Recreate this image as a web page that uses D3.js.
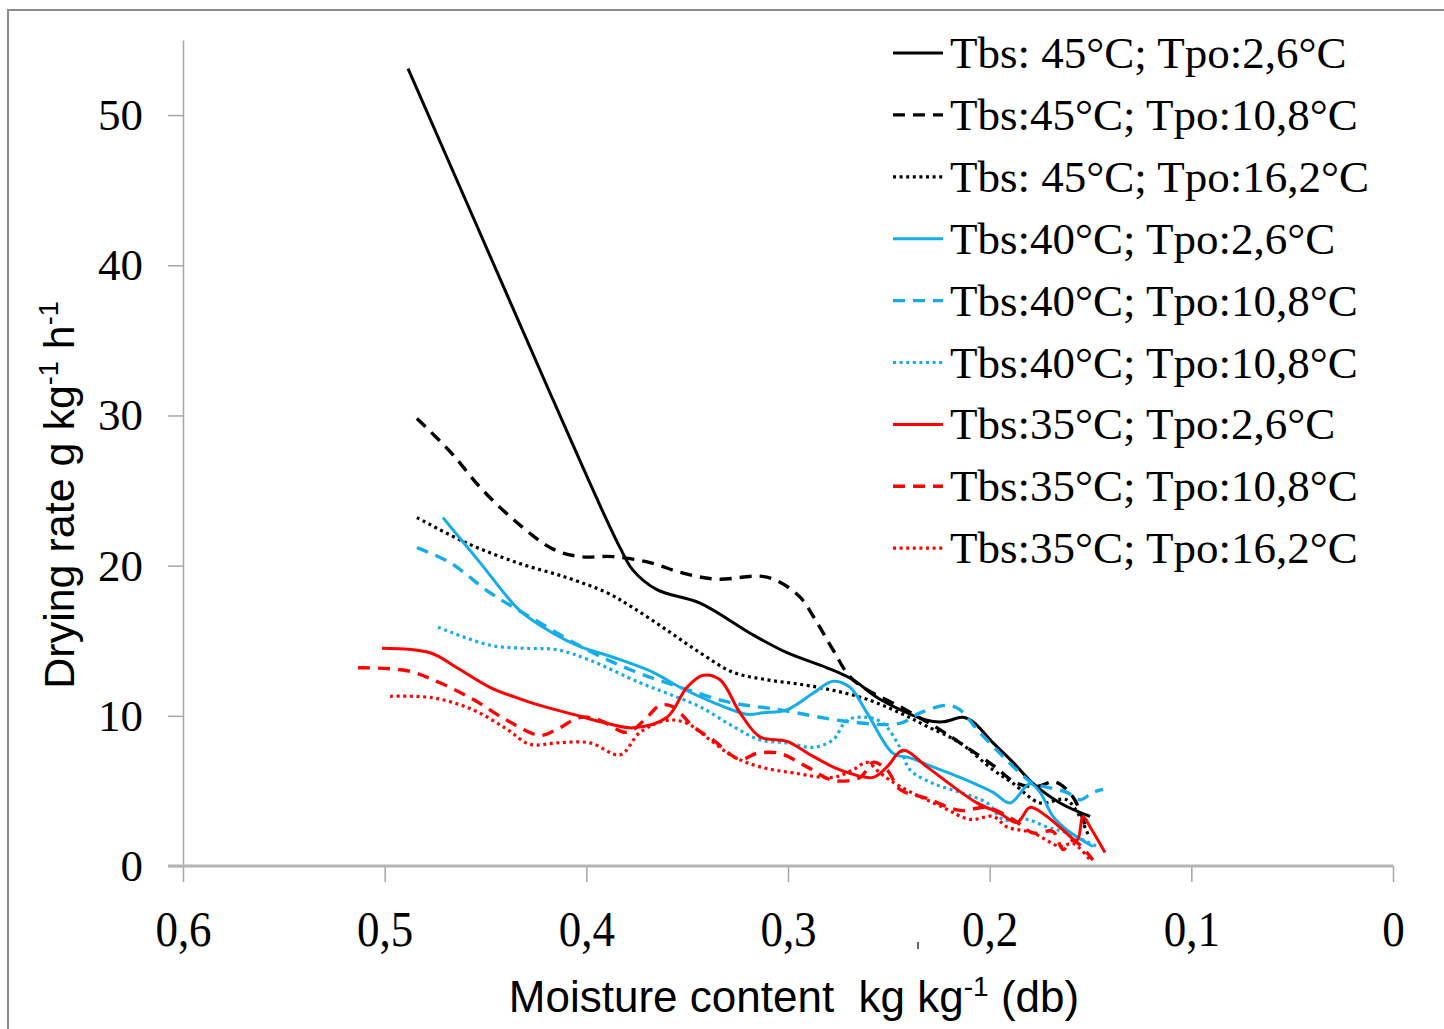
<!DOCTYPE html>
<html>
<head>
<meta charset="utf-8">
<script src="https://cdn.jsdelivr.net/npm/d3@7"></script>
<style>
  html, body { margin: 0; padding: 0; background: #fff; }
  svg { display: block; }
</style>
</head>
<body>
<svg id="chart" width="1444" height="1029"></svg>
<script>
// Moisture content (kg/kg db) and drying rate (g/kg/h) for each drying condition
const mc_45_26 = [0.4884, 0.4379, 0.4131, 0.3932, 0.3833, 0.3769, 0.3650, 0.3436, 0.3188, 0.3005, 0.2807, 0.2678, 0.2544, 0.2311, 0.2231, 0.2132, 0.2083, 0.1983, 0.1884, 0.1785, 0.1651, 0.1502];
const dr_45_26 = [53.1, 37.6, 30.0, 24.0, 21.2, 19.7, 18.4, 17.5, 15.5, 14.2, 13.2, 12.4, 11.1, 9.7, 9.6, 9.9, 9.6, 8.2, 6.9, 5.5, 4.2, 3.3];

const mc_45_108 = [0.4840, 0.4676, 0.4512, 0.4329, 0.4165, 0.4031, 0.3868, 0.3684, 0.3521, 0.3352, 0.3139, 0.3055, 0.2940, 0.2856, 0.2777, 0.2678, 0.2430, 0.2261, 0.2147, 0.1983, 0.1864, 0.1765, 0.1676, 0.1587, 0.1527];
const dr_45_108 = [29.8, 27.6, 25.0, 22.7, 21.1, 20.6, 20.6, 20.2, 19.5, 19.1, 19.3, 19.0, 17.9, 16.2, 14.4, 12.4, 10.5, 9.2, 8.2, 6.7, 5.5, 5.3, 5.6, 4.6, 2.7];

const mc_45_162 = [0.4840, 0.4592, 0.4344, 0.4096, 0.3898, 0.3769, 0.3600, 0.3436, 0.3273, 0.3104, 0.2940, 0.2777, 0.2608, 0.2445, 0.2311, 0.2147, 0.1983, 0.1884, 0.1750, 0.1617, 0.1512];
const dr_45_162 = [23.2, 21.5, 20.2, 19.2, 18.2, 17.2, 15.7, 14.2, 12.9, 12.4, 12.1, 11.7, 11.1, 10.2, 9.3, 8.2, 6.4, 5.5, 4.2, 4.4, 2.1];

const mc_40_26 = [0.4711, 0.4527, 0.4329, 0.4165, 0.4031, 0.3868, 0.3669, 0.3536, 0.3372, 0.3203, 0.3124, 0.3005, 0.2876, 0.2777, 0.2693, 0.2608, 0.2479, 0.2395, 0.2281, 0.2147, 0.1983, 0.1899, 0.1800, 0.1750, 0.1686, 0.1617, 0.1488];
const dr_40_26 = [23.2, 20.2, 17.0, 15.5, 14.6, 13.9, 12.9, 11.9, 10.9, 10.1, 10.2, 10.4, 11.5, 12.3, 11.9, 10.2, 7.5, 7.2, 6.6, 5.9, 4.9, 4.2, 5.5, 4.9, 3.3, 2.4, 1.3];

const mc_40_108 = [0.4840, 0.4676, 0.4478, 0.4294, 0.3997, 0.3769, 0.3536, 0.3288, 0.3040, 0.2693, 0.2445, 0.2345, 0.2212, 0.2147, 0.2063, 0.1949, 0.1850, 0.1785, 0.1701, 0.1617, 0.1552, 0.1488, 0.1438];
const dr_40_108 = [21.2, 20.2, 18.2, 16.7, 14.4, 13.0, 11.9, 10.9, 10.4, 9.6, 9.5, 10.2, 10.7, 10.4, 9.1, 7.5, 6.2, 5.5, 5.2, 4.9, 4.4, 4.9, 5.1];

const mc_40_108b = [0.4735, 0.4478, 0.4314, 0.4145, 0.3982, 0.3734, 0.3600, 0.3436, 0.3273, 0.3139, 0.3005, 0.2876, 0.2777, 0.2707, 0.2608, 0.2529, 0.2445, 0.2395, 0.2281, 0.2147, 0.2013, 0.1934, 0.1815, 0.1716, 0.1617, 0.1468];
const dr_40_108b = [15.9, 14.7, 14.5, 14.4, 13.7, 12.2, 11.5, 10.6, 9.3, 8.4, 8.2, 7.9, 8.4, 9.7, 9.9, 9.5, 7.9, 6.4, 5.5, 4.9, 4.2, 3.1, 3.1, 2.6, 2.2, 1.3];

const mc_35_26 = [0.5013, 0.4775, 0.4641, 0.4478, 0.4279, 0.4066, 0.3898, 0.3769, 0.3600, 0.3501, 0.3421, 0.3337, 0.3238, 0.3139, 0.3005, 0.2876, 0.2742, 0.2578, 0.2509, 0.2430, 0.2311, 0.2182, 0.2063, 0.1949, 0.1864, 0.1800, 0.1716, 0.1636, 0.1567, 0.1537, 0.1502, 0.1428];
const dr_35_26 = [14.5, 14.2, 13.2, 11.9, 10.9, 10.1, 9.5, 9.2, 9.9, 11.9, 12.7, 12.4, 10.2, 8.6, 8.3, 7.3, 6.4, 5.9, 6.6, 7.7, 6.6, 5.3, 4.2, 3.5, 2.9, 3.9, 3.3, 2.4, 1.7, 3.3, 2.6, 0.9];

const mc_35_108 = [0.5132, 0.4889, 0.4726, 0.4562, 0.4393, 0.4230, 0.4145, 0.4031, 0.3932, 0.3798, 0.3699, 0.3635, 0.3570, 0.3471, 0.3372, 0.3238, 0.3154, 0.3040, 0.2906, 0.2777, 0.2643, 0.2578, 0.2509, 0.2445, 0.2311, 0.2147, 0.2013, 0.1884, 0.1785, 0.1686, 0.1636, 0.1587, 0.1488];
const dr_35_108 = [13.2, 13.0, 12.2, 11.1, 9.7, 8.7, 9.1, 9.9, 9.7, 8.9, 9.9, 10.7, 10.6, 9.3, 8.4, 7.1, 7.5, 7.5, 6.6, 5.7, 5.9, 6.9, 6.4, 5.1, 4.5, 3.7, 3.9, 3.1, 2.2, 2.3, 1.1, 1.7, 0.4];

const mc_35_162 = [0.4973, 0.4760, 0.4562, 0.4393, 0.4279, 0.4145, 0.3982, 0.3833, 0.3734, 0.3600, 0.3501, 0.3387, 0.3273, 0.3139, 0.2975, 0.2777, 0.2678, 0.2608, 0.2544, 0.2445, 0.2231, 0.2097, 0.1983, 0.1914, 0.1785, 0.1651, 0.1587, 0.1502];
const dr_35_162 = [11.3, 11.2, 10.4, 9.1, 8.1, 8.2, 8.2, 7.4, 8.9, 9.7, 9.5, 8.4, 7.3, 6.6, 6.2, 5.9, 6.4, 6.9, 6.2, 5.3, 3.9, 3.1, 3.3, 2.6, 2.2, 1.3, 1.5, 0.4];

const legendLabels = [
  "Tbs: 45°C; Tpo:2,6°C",
  "Tbs:45°C; Tpo:10,8°C",
  "Tbs: 45°C; Tpo:16,2°C",
  "Tbs:40°C; Tpo:2,6°C",
  "Tbs:40°C; Tpo:10,8°C",
  "Tbs:40°C; Tpo:10,8°C",
  "Tbs:35°C; Tpo:2,6°C",
  "Tbs:35°C; Tpo:10,8°C",
  "Tbs:35°C; Tpo:16,2°C"
];
const xTicks = [0.6, 0.5, 0.4, 0.3, 0.2, 0.1, 0];
const yTicks = [0, 10, 20, 30, 40, 50];

// Series pairing and drawing styles
const seriesX = [mc_45_26, mc_45_108, mc_45_162, mc_40_26, mc_40_108, mc_40_108b, mc_35_26, mc_35_108, mc_35_162];
const seriesY = [dr_45_26, dr_45_108, dr_45_162, dr_40_26, dr_40_108, dr_40_108b, dr_35_26, dr_35_108, dr_35_162];
const seriesColor = ["#000000", "#000000", "#000000", "#16ACE8", "#16ACE8", "#16ACE8", "#FF0000", "#FF0000", "#FF0000"];
const seriesDash = [null, "12 8", "3 3.6", null, "12 8", "3 3.6", null, "12 8", "3 3.6"];
const seriesWidth = [3, 3.4, 3.2, 3, 3.4, 3.2, 3, 3.4, 3.2];

const W = 1444, H = 1029;
const svg = d3.select("#chart");
svg.append("rect").attr("width", W).attr("height", H).attr("fill", "#fff");

// outer chart border (top and left edges visible)
svg.append("path")
  .attr("d", "M8,1029 V10 H1444")
  .attr("fill", "none")
  .attr("stroke", "#8c8c8c")
  .attr("stroke-width", 2);

const x = d3.scaleLinear().domain([0.6, 0]).range([183, 1393]);
const y = d3.scaleLinear().domain([0, 55]).range([866, 40]);

const serif = "'Liberation Serif', 'Times New Roman', serif";
const sans = "'Liberation Sans', Arial, sans-serif";

// Y axis
const yAxis = svg.append("g")
  .attr("transform", "translate(183,0)")
  .call(d3.axisLeft(y).tickValues(yTicks).tickSize(15).tickPadding(25).tickSizeOuter(0).tickFormat(d3.format("d")));
yAxis.select(".domain").attr("stroke", "#a6a6a6").attr("stroke-width", 1.5);
yAxis.selectAll(".tick line").attr("stroke", "#a6a6a6").attr("stroke-width", 1.5);
yAxis.selectAll(".tick text")
  .attr("font-family", serif).attr("font-size", 45).attr("fill", "#000");

// X axis
const fmtX = d => d === 0 ? "0" : d3.format(".1f")(d).replace(".", ",");
const xAxis = svg.append("g")
  .attr("transform", "translate(0,866)")
  .call(d3.axisBottom(x).tickValues(xTicks).tickSize(16).tickPadding(29).tickSizeOuter(0).tickFormat(fmtX));
xAxis.select(".domain").remove();
xAxis.selectAll(".tick line").attr("stroke", "#a6a6a6").attr("stroke-width", 1.5);
xAxis.selectAll(".tick text")
  .attr("font-family", serif).attr("font-size", 50).attr("fill", "#000")
  .attr("transform", "scale(0.9,1)");
svg.append("line")
  .attr("x1", 168).attr("x2", x(0))
  .attr("y1", 866).attr("y2", 866)
  .attr("stroke", "#b4b4b4").attr("stroke-width", 3);

// small stray mark under the axis
svg.append("line")
  .attr("x1", 918).attr("x2", 918).attr("y1", 942).attr("y2", 949)
  .attr("stroke", "#333").attr("stroke-width", 1.5);

// Curves
const line = d3.line()
  .x(d => x(d[0]))
  .y(d => y(d[1]))
  .curve(d3.curveCatmullRom.alpha(0.5));

const plot = svg.append("g");
seriesX.forEach((xs, i) => {
  const pts = xs.map((v, j) => [v, seriesY[i][j]]);
  plot.append("path")
    .attr("d", line(pts))
    .attr("fill", "none")
    .attr("stroke", seriesColor[i])
    .attr("stroke-width", seriesWidth[i])
    .attr("stroke-dasharray", seriesDash[i])
    .attr("stroke-linejoin", "round");
});

// Legend
const legend = svg.append("g");
legendLabels.forEach((lab, i) => {
  const cy = 53 + 61.9 * i;
  legend.append("line")
    .attr("x1", 893).attr("x2", 943)
    .attr("y1", cy).attr("y2", cy)
    .attr("stroke", seriesColor[i])
    .attr("stroke-width", seriesWidth[i])
    .attr("stroke-dasharray", seriesDash[i]);
  legend.append("text")
    .attr("x", 950).attr("y", cy + 15)
    .attr("font-family", serif).attr("font-size", 45)
    .attr("fill", "#000")
    .style("white-space", "pre")
    .text(lab);
});

// X axis title
const xt = svg.append("text")
  .attr("x", 794).attr("y", 1012)
  .attr("text-anchor", "middle")
  .attr("font-family", sans).attr("font-size", 44)
  .attr("fill", "#000")
  .style("white-space", "pre");
xt.append("tspan").text("Moisture content  kg kg");
xt.append("tspan").attr("font-size", 28).attr("dy", -16).text("-1");
xt.append("tspan").attr("dy", 16).text(" (db)");

// Y axis title
const yt = svg.append("text")
  .attr("transform", "translate(74,495) rotate(-90)")
  .attr("text-anchor", "middle")
  .attr("font-family", sans).attr("font-size", 43)
  .attr("fill", "#000")
  .style("white-space", "pre");
yt.append("tspan").text("Drying rate g kg");
yt.append("tspan").attr("font-size", 27).attr("dy", -16).text("-1");
yt.append("tspan").attr("dy", 16).text(" h");
yt.append("tspan").attr("font-size", 27).attr("dy", -16).text("-1");
</script>
</body>
</html>
